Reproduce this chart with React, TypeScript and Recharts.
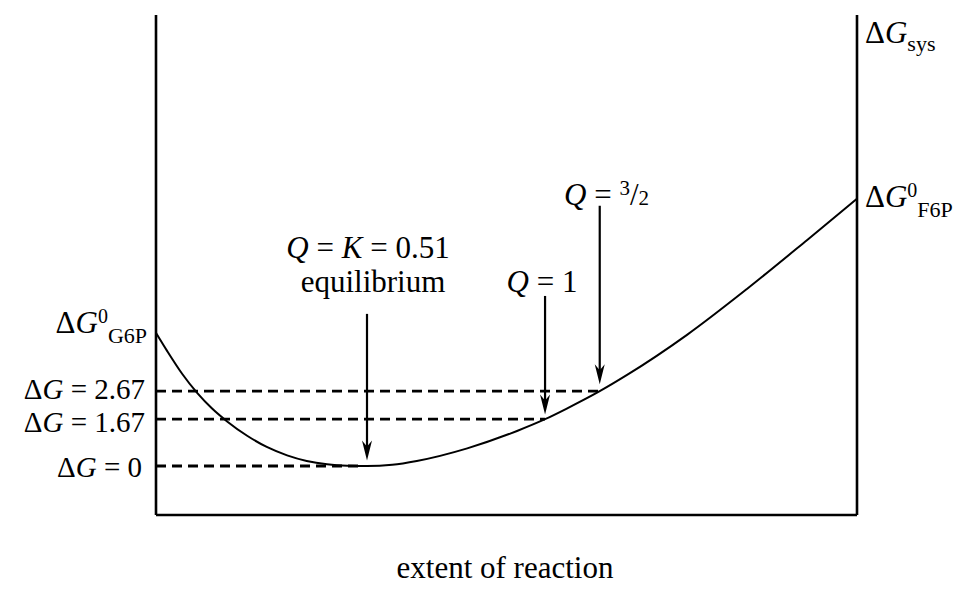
import { ComposedChart, Line, XAxis, YAxis, ReferenceLine } from 'recharts';

// extent of reaction (0 = all G6P, 1 = all F6P) and the free energy
const extent = [
  0, 0.016, 0.037, 0.059, 0.08, 0.101, 0.13, 0.158, 0.187, 0.215, 0.244, 0.273, 0.301,
  0.337, 0.372, 0.444, 0.515, 0.555, 0.586, 0.633, 0.672, 0.758, 0.843, 0.929, 1,
];
const deltaG = [
  4.75, 4.1, 3.3, 2.6, 2.05, 1.6, 1.08, 0.68, 0.38, 0.18, 0.06, 0.01, 0,
  0.045, 0.18, 0.63, 1.25, 1.67, 2.05, 2.67, 3.25, 4.69, 6.32, 8.07, 9.54,
];

// dashed guide levels and where each one stops
const levels = [0, 1.67, 2.67];
const levelEnds = [0.296, 0.555, 0.633];

// arrows from the labels down to the curve
const arrowX = [0.301, 0.555, 0.633];
const arrowFrom = [5.43, 6.07, 9.29];
const arrowTo = [0.2, 1.84, 2.92];

const Y_MIN = -1.75;
const Y_MAX = 16.1;

const data = extent.map((x, i) => ({ x, g: deltaG[i] }));

const SERIF = 'Liberation Serif';

const Arrow = (props: any) => {
  const { x1, y1, x2, y2 } = props;
  return (
    <g>
      <line x1={x1} y1={y1} x2={x2} y2={y2 - 12} stroke="#000" strokeWidth={2.2} />
      <path d={`M${x2},${y2} L${x2 - 5},${y2 - 20} L${x2},${y2 - 14} L${x2 + 5},${y2 - 20} Z`} fill="#000" />
    </g>
  );
};

// one label line: plain text with optional italic parts
const Lbl = ({ children, size = 31, ...rest }: any) => (
  <text fontFamily={SERIF} fontSize={size} fill="#000" {...rest}>
    {children}
  </text>
);
const It = ({ children }: any) => (
  <tspan fontFamily={SERIF} fontStyle="italic">
    {children}
  </tspan>
);

const App = () => {
  return (
    <div
      style={{
        position: 'absolute',
        left: 0,
        top: 0,
        width: 964,
        height: 592,
        background: '#fff',
        fontFamily: SERIF,
      }}
    >
      <ComposedChart width={964} height={592} data={data} margin={{ top: 15, right: 107, bottom: 77, left: 156 }}>
        <XAxis type="number" dataKey="x" domain={[0, 1]} hide />
        <YAxis type="number" domain={[Y_MIN, Y_MAX]} hide />
        {levels.map((lv, i) => (
          <ReferenceLine
            key={`lv-${i}`}
            segment={[{ x: 0, y: lv }, { x: levelEnds[i], y: lv }]}
            stroke="#000"
            strokeWidth={2.8}
            strokeDasharray="10 6"
          />
        ))}
        <ReferenceLine x={0} stroke="#000" strokeWidth={2.6} />
        <ReferenceLine x={1} stroke="#000" strokeWidth={2.6} />
        <ReferenceLine y={Y_MIN} stroke="#000" strokeWidth={2.6} />
        <Line
          type="monotone"
          dataKey="g"
          stroke="#000"
          strokeWidth={2}
          dot={false}
          isAnimationActive={false}
        />
        {arrowX.map((ax, i) => (
          <ReferenceLine
            key={`ar-${i}`}
            segment={[{ x: ax, y: arrowFrom[i] }, { x: ax, y: arrowTo[i] }]}
            shape={(p: any) => <Arrow {...p} />}
          />
        ))}
      </ComposedChart>
      <svg width={964} height={592} style={{ position: 'absolute', left: 0, top: 0, pointerEvents: 'none' }}>
        <Lbl x={865} y={43}>
          Δ<It>G</It>
          <tspan fontSize={22} dy={8}>sys</tspan>
        </Lbl>
        <Lbl x={865} y={207}>
          Δ<It>G</It>
          <tspan fontSize={20} dy={-10}>0</tspan>
          <tspan fontSize={22} dy={20}>F6P</tspan>
        </Lbl>
        <Lbl x={147} y={333} textAnchor="end">
          Δ<It>G</It>
          <tspan fontSize={20} dy={-10}>0</tspan>
          <tspan fontSize={22} dy={20}>G6P</tspan>
        </Lbl>
        <Lbl x={145} y={399} size={29} textAnchor="end">
          Δ<It>G</It> = 2.67
        </Lbl>
        <Lbl x={145} y={432} size={29} textAnchor="end">
          Δ<It>G</It> = 1.67
        </Lbl>
        <Lbl x={142} y={477} size={29} textAnchor="end">
          Δ<It>G</It> = 0
        </Lbl>
        <Lbl x={368} y={258} textAnchor="middle">
          <It>Q</It> = <It>K</It> = 0.51
        </Lbl>
        <Lbl x={373} y={292} textAnchor="middle">
          equilibrium
        </Lbl>
        <Lbl x={542} y={292} textAnchor="middle">
          <It>Q</It> = 1
        </Lbl>
        <Lbl x={564} y={205}>
          <It>Q</It> ={' '}
          <tspan fontSize={21} dy={-10}>3</tspan>
          <tspan dy={10}>/</tspan>
          <tspan fontSize={21}>2</tspan>
        </Lbl>
        <Lbl x={505} y={578} textAnchor="middle">
          extent of reaction
        </Lbl>
      </svg>
    </div>
  );
};

export default App;
